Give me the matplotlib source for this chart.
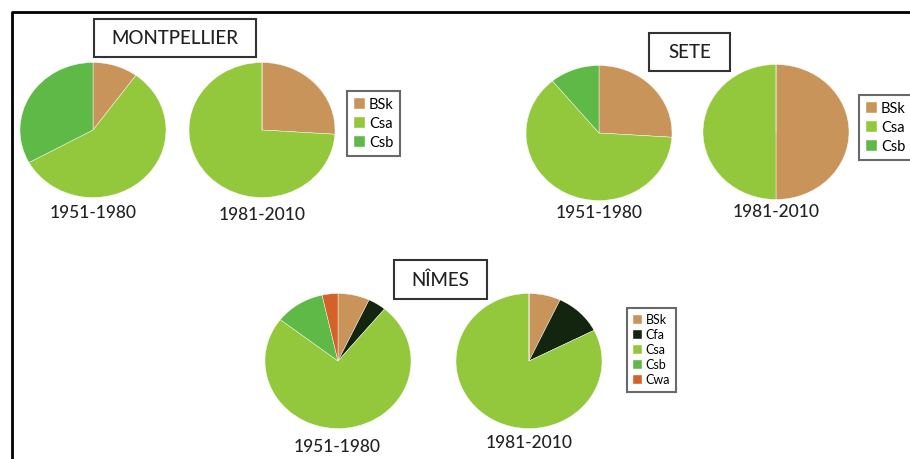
import matplotlib.pyplot as plt
from matplotlib.patches import Rectangle

plt.rcParams['font.family'] = ['Lato', 'DejaVu Sans']

# climate classes and colours
classes_3 = ['BSk', 'Csa', 'Csb']
classes_5 = ['BSk', 'Cfa', 'Csa', 'Csb', 'Cwa']
class_colors = {'BSk': '#C8945A', 'Cfa': '#13240F', 'Csa': '#93C73C',
                'Csb': '#5EB946', 'Cwa': '#D4602A'}
periods = ['1951-1980', '1981-2010']

# shares (%) per period
montpellier = [[10, 57, 33], [26, 74, 0]]
sete = [[26, 63, 11], [50, 50, 0]]
nimes = [[7, 4, 74.5, 11, 3.5], [7, 10.5, 82.5, 0, 0]]

W, H = 910, 459
fig = plt.figure(figsize=(W / 100, H / 100), dpi=100)


def px_box(x0, y0, x1, y1):
    return [x0 / W, 1 - y1 / H, (x1 - x0) / W, (y1 - y0) / H]


# background layer in pixel coordinates: frame and title boxes
bg = fig.add_axes([0, 0, 1, 1])
bg.set_xlim(0, W)
bg.set_ylim(H, 0)
bg.axis('off')
bg.plot([12, 12, W + 5], [H + 5, 12, 12], color='black', lw=2)


def title_box(x0, y0, x1, y1, name):
    bg.add_patch(Rectangle((x0, y0), x1 - x0, y1 - y0, fill=False,
                           edgecolor='#333333', lw=1.5))
    bg.text((x0 + x1) / 2, (y0 + y1) / 2 + 1, name, ha='center', va='center',
            fontsize=13.5, color='#222222', fontweight='medium')


title_box(94, 19, 256, 57, 'MONTPELLIER')
title_box(649, 33, 730, 71, 'SETE')
title_box(394, 260, 487, 299, 'NÎMES')


def draw_pie(cx, cy, values, cats, rx=73, ry=67.5):
    ax = fig.add_axes(px_box(cx - rx, cy - ry, cx + rx, cy + ry))
    wedges, _ = ax.pie(values, colors=[class_colors[c] for c in cats],
                       startangle=90, counterclock=False, radius=1,
                       wedgeprops=dict(linewidth=0.3, edgecolor='white'))
    ax.set_aspect('auto')
    ax.set_xlim(-1, 1)
    ax.set_ylim(-1, 1)
    ax.axis('off')
    return wedges


def period_label(x, y, text):
    fig.text(x / W, 1 - y / H, text, ha='center', va='center',
             fontsize=12.5, color='#222222', fontweight='medium')


def add_legend(wedges, cats, x0, y0, fs, spacing):
    leg = fig.legend(wedges, cats, loc='upper left',
                     bbox_to_anchor=(x0 / W, 1 - y0 / H), frameon=True,
                     fancybox=False, edgecolor='#444444', fontsize=fs,
                     handlelength=0.75, handleheight=0.75, handletextpad=0.3,
                     labelspacing=spacing, borderpad=0.45, borderaxespad=0)
    leg.get_frame().set_linewidth(1.5)


# Montpellier
w = draw_pie(93, 130, montpellier[0], classes_3)
draw_pie(262, 130, montpellier[1], classes_3)
period_label(93, 213, periods[0])
period_label(262, 215, periods[1])
add_legend(w, classes_3, 347, 91, 10.5, 0.35)

# Sete
w = draw_pie(599, 133, sete[0], classes_3)
draw_pie(776, 132, sete[1], classes_3)
period_label(599, 213, periods[0])
period_label(776, 212, periods[1])
add_legend(w, classes_3, 859, 95, 10.5, 0.35)

# Nimes
w = draw_pie(338, 361, nimes[0], classes_5)
draw_pie(529, 361, nimes[1], classes_5)
period_label(337, 447, periods[0])
period_label(529, 443, periods[1])
add_legend(w, classes_5, 627, 308, 9, 0.25)

fig.savefig('out.png', dpi=100)
